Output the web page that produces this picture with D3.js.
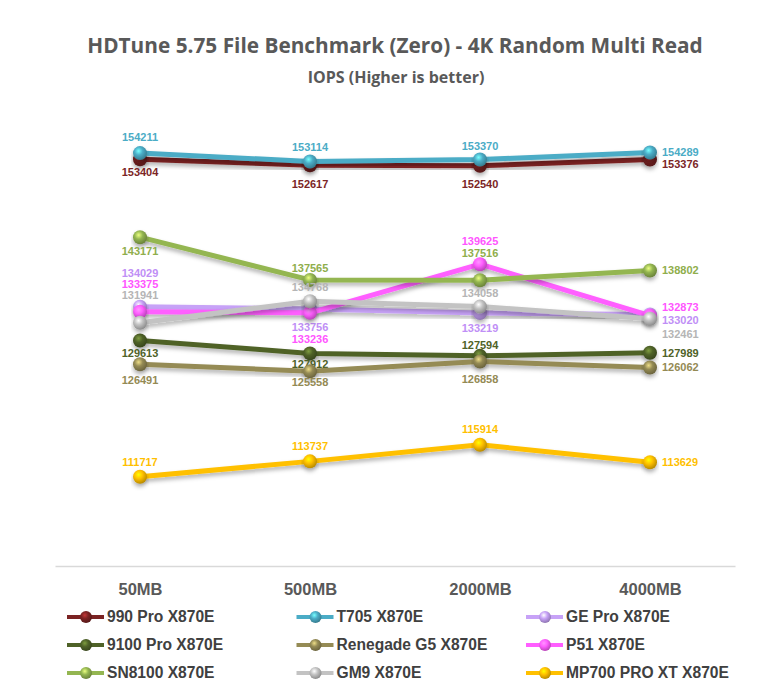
<!DOCTYPE html>
<html>
<head>
<meta charset="utf-8">
<script src="https://cdn.jsdelivr.net/npm/d3@7"></script>
<style>
  body { margin: 0; background: #fff; }
  #canvas { width: 780px; height: 697px; }
</style>
</head>
<body>
<div id="canvas"></div>
<script>
// categories and series
const sizes = ["50MB", "500MB", "2000MB", "4000MB"];
const drives = ["990 Pro X870E", "T705 X870E", "GE Pro X870E", "9100 Pro X870E", "Renegade G5 X870E",
  "P51 X870E", "SN8100 X870E", "GM9 X870E", "MP700 PRO XT X870E"];

const pro990 = [153404, 152617, 152540, 153376];
const t705 = [154211, 153114, 153370, 154289];
const gePro = [134029, 133756, 133219, 133020];
const pro9100 = [129613, 127912, 127594, 127989];
const renegade = [126491, 125558, 126858, 126062];
const p51 = [133375, 133236, 139625, 132873];
const sn8100 = [143171, 137565, 137516, 138802];
const gm9 = [131941, 134768, 134058, 132461];
const mp700 = [111717, 113737, 115914, 113629];

const values = [pro990, t705, gePro, pro9100, renegade, p51, sn8100, gm9, mp700];

const colors = ["#7b2323", "#4bacc6", "#c7a2f7", "#4f6228", "#958b55", "#ff5eff", "#94b651", "#c3c3c3", "#ffc000"];
const labelColors = ["#7b2525", "#4bacc6", "#bf8ff6", "#4f6228", "#948a54", "#ff55ff", "#8fae4c", "#b5b5b5", "#ffbf00"];

// label offsets from the point (px, vertical); last point sits on the right
const labelDy = [
  [13, 19, 18, 5],
  [-16, -14, -13, 0],
  [-34, 18, 15, 6],
  [13, 11, -11, 0],
  [16, 11, 18, 0],
  [-28, 26, -23, -8],
  [14, -12, -27, 0],
  [-28, -14, -13, 15],
  [-15, -15, -16, 0]
];

const width = 780;
const height = 697;

const svg = d3.select("#canvas").append("svg")
  .attr("width", width)
  .attr("height", height);

const defs = svg.append("defs");

const shadow = defs.append("filter").attr("id", "shadow")
  .attr("x", "-10%").attr("y", "-50%").attr("width", "120%").attr("height", "200%");
shadow.append("feDropShadow")
  .attr("dx", 0).attr("dy", 3).attr("stdDeviation", 2)
  .attr("flood-color", "#000").attr("flood-opacity", 0.3);

colors.forEach((c, i) => {
  const grad = defs.append("radialGradient").attr("id", "ball" + i)
    .attr("cx", "40%").attr("cy", "35%").attr("r", "65%");
  grad.append("stop").attr("offset", "0%").attr("stop-color", d3.color(c).brighter(1.3));
  grad.append("stop").attr("offset", "45%").attr("stop-color", c);
  grad.append("stop").attr("offset", "100%").attr("stop-color", d3.color(c).darker(0.9));
});

svg.append("text")
  .attr("x", 395).attr("y", 53)
  .attr("text-anchor", "middle")
  .style("font-family", "'Open Sans', sans-serif")
  .style("font-weight", "bold")
  .style("font-size", "20.8px")
  .style("fill", "#595959")
  .text("HDTune 5.75 File Benchmark (Zero) - 4K Random Multi Read");

svg.append("text")
  .attr("x", 396).attr("y", 83)
  .attr("text-anchor", "middle")
  .style("font-family", "'Open Sans', sans-serif")
  .style("font-weight", "bold")
  .style("font-size", "16px")
  .style("fill", "#595959")
  .text("IOPS (Higher is better)");

const x = d3.scalePoint()
  .domain(sizes)
  .range([55, 735])
  .padding(0.5);

const y = d3.scaleLinear()
  .domain([100000, 160000])
  .range([566, 109]);

const xAxis = svg.append("g")
  .attr("transform", "translate(0,566)")
  .call(d3.axisBottom(x).tickSize(0).tickPadding(17));
xAxis.select(".domain").attr("stroke", "#d9d9d9").attr("stroke-width", 1.5);
xAxis.selectAll("text")
  .style("font-family", "Arial, 'Liberation Sans', sans-serif")
  .style("font-weight", "bold")
  .style("font-size", "16.5px")
  .style("fill", "#595959");

const line = d3.line()
  .x((d, i) => x(sizes[i]))
  .y(d => y(d));

const series = svg.selectAll("g.series").data(values).enter()
  .append("g").attr("class", "series");

series.append("path")
  .attr("d", d => line(d))
  .attr("fill", "none")
  .attr("stroke", (d, i) => colors[i])
  .attr("stroke-width", 5)
  .attr("stroke-linejoin", "round")
  .attr("filter", "url(#shadow)");

series.each(function (d, si) {
  d3.select(this).selectAll("circle").data(d).enter().append("circle")
    .attr("cx", (v, i) => x(sizes[i]))
    .attr("cy", v => y(v))
    .attr("r", 7)
    .attr("fill", "url(#ball" + si + ")")
    .attr("filter", "url(#shadow)");
});

series.each(function (d, si) {
  d3.select(this).selectAll("text").data(d).enter().append("text")
    .attr("x", (v, i) => i === 3 ? x(sizes[i]) + 12 : x(sizes[i]))
    .attr("y", (v, i) => y(v) + labelDy[si][i])
    .attr("dy", "0.35em")
    .attr("text-anchor", (v, i) => i === 3 ? "start" : "middle")
    .style("font-family", "Arial, 'Liberation Sans', sans-serif")
    .style("font-weight", "bold")
    .style("font-size", "11px")
    .style("fill", labelColors[si])
    .text(v => v);
});

// legend
const legend = svg.selectAll("g.legend").data(drives).enter()
  .append("g").attr("class", "legend")
  .attr("transform", (d, i) => `translate(${67 + (i % 3) * 229.5},${617 + Math.floor(i / 3) * 28})`);

legend.append("line")
  .attr("x1", 0).attr("x2", 37)
  .attr("stroke", (d, i) => colors[i])
  .attr("stroke-width", 4);

legend.append("circle")
  .attr("cx", 19).attr("r", 6)
  .attr("fill", (d, i) => "url(#ball" + i + ")");

legend.append("text")
  .attr("x", 40)
  .attr("dy", "0.35em")
  .style("font-family", "Arial, 'Liberation Sans', sans-serif")
  .style("font-weight", "bold")
  .style("font-size", "15.6px")
  .style("fill", "#404040")
  .text(d => d);
</script>
</body>
</html>
